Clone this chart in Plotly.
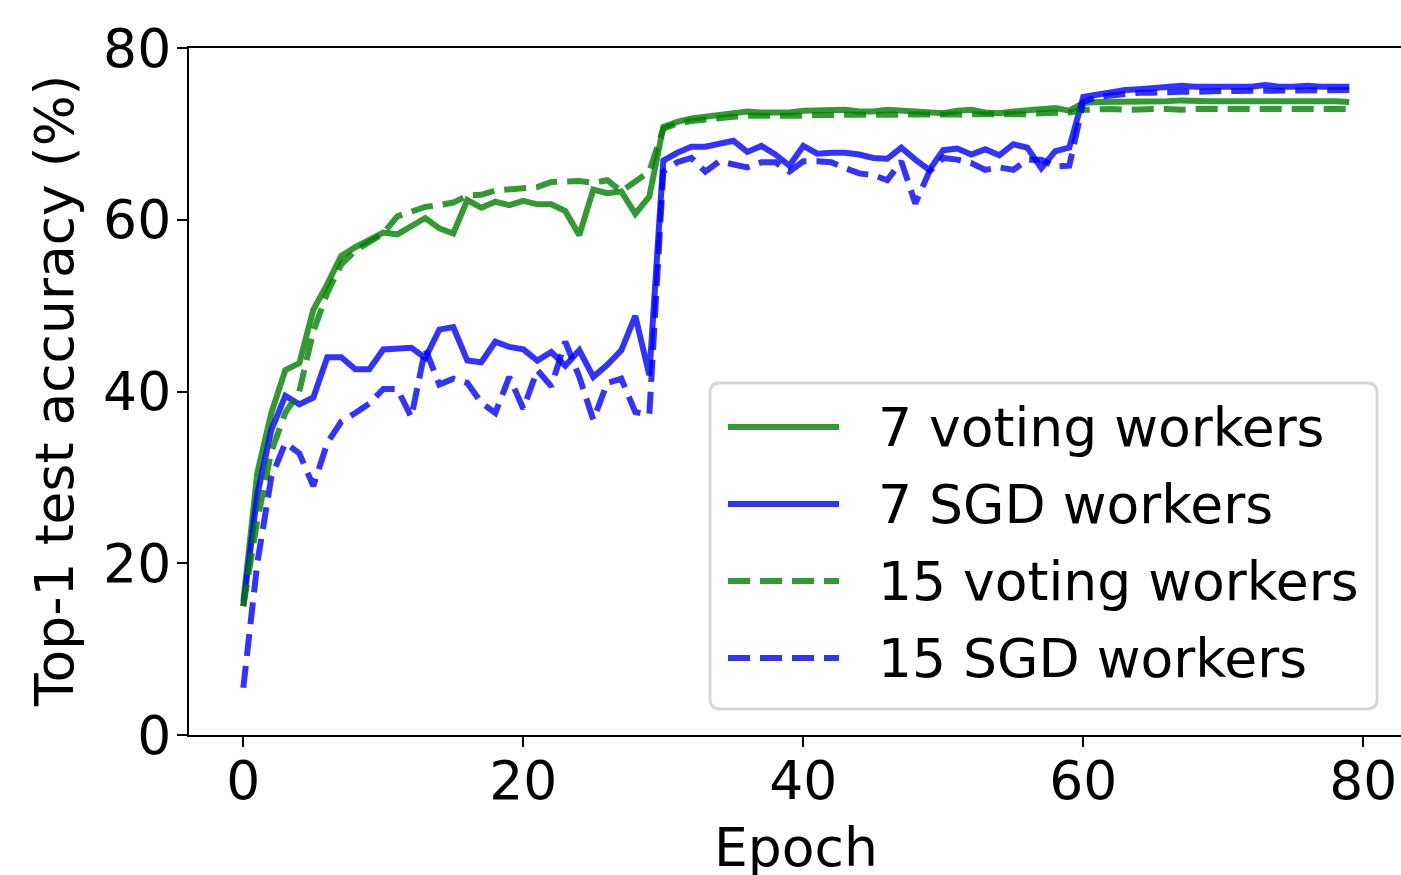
import plotly.graph_objects as go

epochs = list(range(80))

voting7 = [15.5, 30.5, 37.5, 42.5, 43.3, 49.5, 52.5, 55.8, 56.8, 57.7,
           58.5, 58.3, 59.2, 60.2, 59.0, 58.4, 62.3, 61.4, 62.1, 61.7,
           62.2, 61.8, 61.8, 61.0, 58.2, 63.5, 63.1, 63.3, 60.7, 62.7,
           70.8, 71.4, 71.8, 72.0, 72.1, 72.3, 72.6, 72.5, 72.5, 72.5,
           72.7, 72.7, 72.8, 72.8, 72.6, 72.6, 72.8, 72.7, 72.7, 72.6,
           72.4, 72.7, 72.8, 72.5, 72.4, 72.6, 72.7, 72.8, 73.0, 72.7,
           73.6, 73.7, 73.7, 73.7, 73.8, 73.8, 73.8, 73.9, 73.8, 73.8,
           73.8, 73.8, 73.8, 73.8, 73.8, 73.8, 73.8, 73.9, 73.8, 73.7]

sgd7 = [15.0, 28.0, 35.5, 39.5, 38.5, 39.3, 44.0, 44.0, 42.6, 42.6,
        44.9, 45.0, 45.1, 43.9, 47.2, 47.5, 43.6, 43.4, 45.8, 45.2,
        44.9, 43.6, 44.6, 43.0, 44.8, 41.7, 43.1, 44.8, 48.8, 41.9,
        66.9, 67.8, 68.5, 68.5, 68.9, 69.2, 67.9, 68.6, 67.6, 66.3,
        68.6, 67.7, 67.8, 67.8, 67.6, 67.2, 67.1, 68.4, 67.0, 65.8,
        68.1, 68.3, 67.6, 68.2, 67.5, 68.8, 68.4, 66.0, 68.0, 68.4,
        74.3, 74.6, 74.8, 75.1, 75.2, 75.3, 75.4, 75.6, 75.5, 75.5,
        75.6, 75.5, 75.5, 75.7, 75.5, 75.5, 75.6, 75.5, 75.5, 75.5]

voting15 = [15.0, 25.0, 33.0, 37.5, 40.0, 47.0, 51.5, 54.8, 56.4, 57.4,
            58.4, 60.4, 60.9, 61.5, 61.7, 62.0, 62.8, 62.9, 63.4, 63.5,
            63.7, 63.8, 64.4, 64.5, 64.5, 64.3, 64.6, 63.3, 64.4, 65.6,
            70.6, 71.2, 71.5, 71.7, 71.8, 72.0, 72.1, 72.1, 72.1, 72.0,
            72.1, 72.2, 72.2, 72.2, 72.3, 72.3, 72.3, 72.2, 72.2, 72.2,
            72.2, 72.3, 72.3, 72.2, 72.2, 72.2, 72.3, 72.4, 72.5, 72.5,
            72.8, 72.9, 72.9, 72.8, 72.9, 72.9, 72.9, 72.8, 72.9, 72.9,
            72.9, 72.8, 72.9, 72.9, 72.9, 72.9, 72.8, 72.9, 72.9, 72.9]

sgd15 = [5.5, 20.0, 30.0, 34.0, 32.8, 29.0, 34.0, 36.5, 37.5, 38.6,
         40.3, 40.3, 37.0, 45.0, 40.8, 41.5, 41.0, 38.7, 37.5, 41.7,
         38.0, 42.5, 40.6, 45.8, 41.7, 36.7, 41.0, 41.5, 37.6, 37.3,
         65.6, 66.7, 67.2, 65.6, 66.8, 66.5, 66.1, 66.7, 66.7, 65.6,
         66.8, 66.8, 66.7, 66.0, 65.4, 65.2, 64.6, 66.8, 61.9, 65.6,
         67.2, 67.0, 66.6, 65.8, 66.1, 65.8, 67.0, 67.0, 66.2, 66.3,
         73.7, 74.3, 74.5, 74.7, 74.8, 74.8, 74.9, 74.9, 74.9, 75.0,
         75.0, 75.0, 75.0, 75.0, 75.0, 75.1, 75.1, 75.0, 75.0, 75.1]

series_names = ["7 voting workers", "7 SGD workers", "15 voting workers", "15 SGD workers"]
tick_vals = [0, 20, 40, 60, 80]
x_title = "Epoch"
y_title = "Top-1 test accuracy (%)"

GREEN = "rgba(0,128,0,0.8)"
BLUE = "rgba(0,0,255,0.8)"
LW = 6
DASH = "22px,10px"
FONT = "DejaVu Sans"
FS = 53.5

W, H = 1401, 875
# plot area in screen pixels: x 189..1401, y 48..735
L, T, R = 189, 48, 0
B = H - 735

fig = go.Figure()
styles = [(voting7, GREEN, "solid"), (sgd7, BLUE, "solid"),
          (voting15, GREEN, DASH), (sgd15, BLUE, DASH)]
for name, (vals, col, dash) in zip(series_names, styles):
    fig.add_trace(go.Scatter(x=epochs, y=vals, mode="lines", name=name,
                             line=dict(color=col, width=LW, dash=dash),
                             showlegend=False))

pw, ph = W - L - R, H - T - B
def px(x):
    return (x - L) / pw
def py(y):
    return (H - B - y) / ph

# manual legend (matplotlib-like)
bx0, bx1, by0, by1, r = 710, 1377, 383, 709, 10
path = (f"M{px(bx0 + r)},{py(by0)} L{px(bx1 - r)},{py(by0)} "
        f"Q{px(bx1)},{py(by0)} {px(bx1)},{py(by0 + r)} "
        f"L{px(bx1)},{py(by1 - r)} Q{px(bx1)},{py(by1)} {px(bx1 - r)},{py(by1)} "
        f"L{px(bx0 + r)},{py(by1)} Q{px(bx0)},{py(by1)} {px(bx0)},{py(by1 - r)} "
        f"L{px(bx0)},{py(by0 + r)} Q{px(bx0)},{py(by0)} {px(bx0 + r)},{py(by0)} Z")
fig.add_shape(type="path", path=path, xref="paper", yref="paper",
              fillcolor="rgba(255,255,255,0.8)",
              line=dict(color="rgba(204,204,204,0.8)", width=2.8), layer="above")

rows = [427, 504, 581, 658]
for name, (vals, col, dash), ry in zip(series_names, styles, rows):
    fig.add_shape(type="line", xref="paper", yref="paper",
                  x0=px(728), x1=px(839), y0=py(ry), y1=py(ry),
                  line=dict(color=col, width=LW, dash=dash), layer="above")
    fig.add_annotation(x=px(876), y=py(ry), xref="paper", yref="paper",
                       text=name, showarrow=False, xanchor="left", yanchor="middle",
                       font=dict(family=FONT, size=FS, color="black"))

# axis titles
fig.add_annotation(x=px(54), y=py(391), xref="paper", yref="paper",
                   text=y_title, textangle=-90, showarrow=False,
                   xanchor="center", yanchor="middle",
                   font=dict(family=FONT, size=FS, color="black"))
fig.add_annotation(x=px(796), y=py(847), xref="paper", yref="paper",
                   text=x_title, showarrow=False,
                   xanchor="center", yanchor="middle",
                   font=dict(family=FONT, size=FS, color="black"))

# x scale: epoch 0 at screen x 243.3, 14 px per epoch
x0_px, x_scale = 243.3, 14.0
xr = [(L - x0_px) / x_scale, (W - R - x0_px) / x_scale]

fig.update_layout(
    width=W, height=H,
    margin=dict(l=L, r=R, t=T, b=B, pad=0, autoexpand=False),
    paper_bgcolor="white", plot_bgcolor="white",
    font=dict(family=FONT, size=FS, color="black"),
    showlegend=False,
    xaxis=dict(range=xr, tickvals=tick_vals, ticks="outside", ticklen=10,
               tickwidth=2.2, tickcolor="black", showline=True, linecolor="black",
               linewidth=2.2, mirror=True, showgrid=False, zeroline=False,
               automargin=False, ticklabelstandoff=-12,
               tickfont=dict(family=FONT, size=FS)),
    yaxis=dict(range=[0, 80], tickvals=tick_vals, ticks="outside", ticklen=10,
               tickwidth=2.2, tickcolor="black", showline=True, linecolor="black",
               linewidth=2.2, showgrid=False, zeroline=False,
               automargin=False, ticklabelstandoff=-5,
               tickfont=dict(family=FONT, size=FS)),
)

fig.write_html("out.html", config={"displayModeBar": False},
               post_script="document.body.style.margin='0';document.body.style.overflow='hidden';")
